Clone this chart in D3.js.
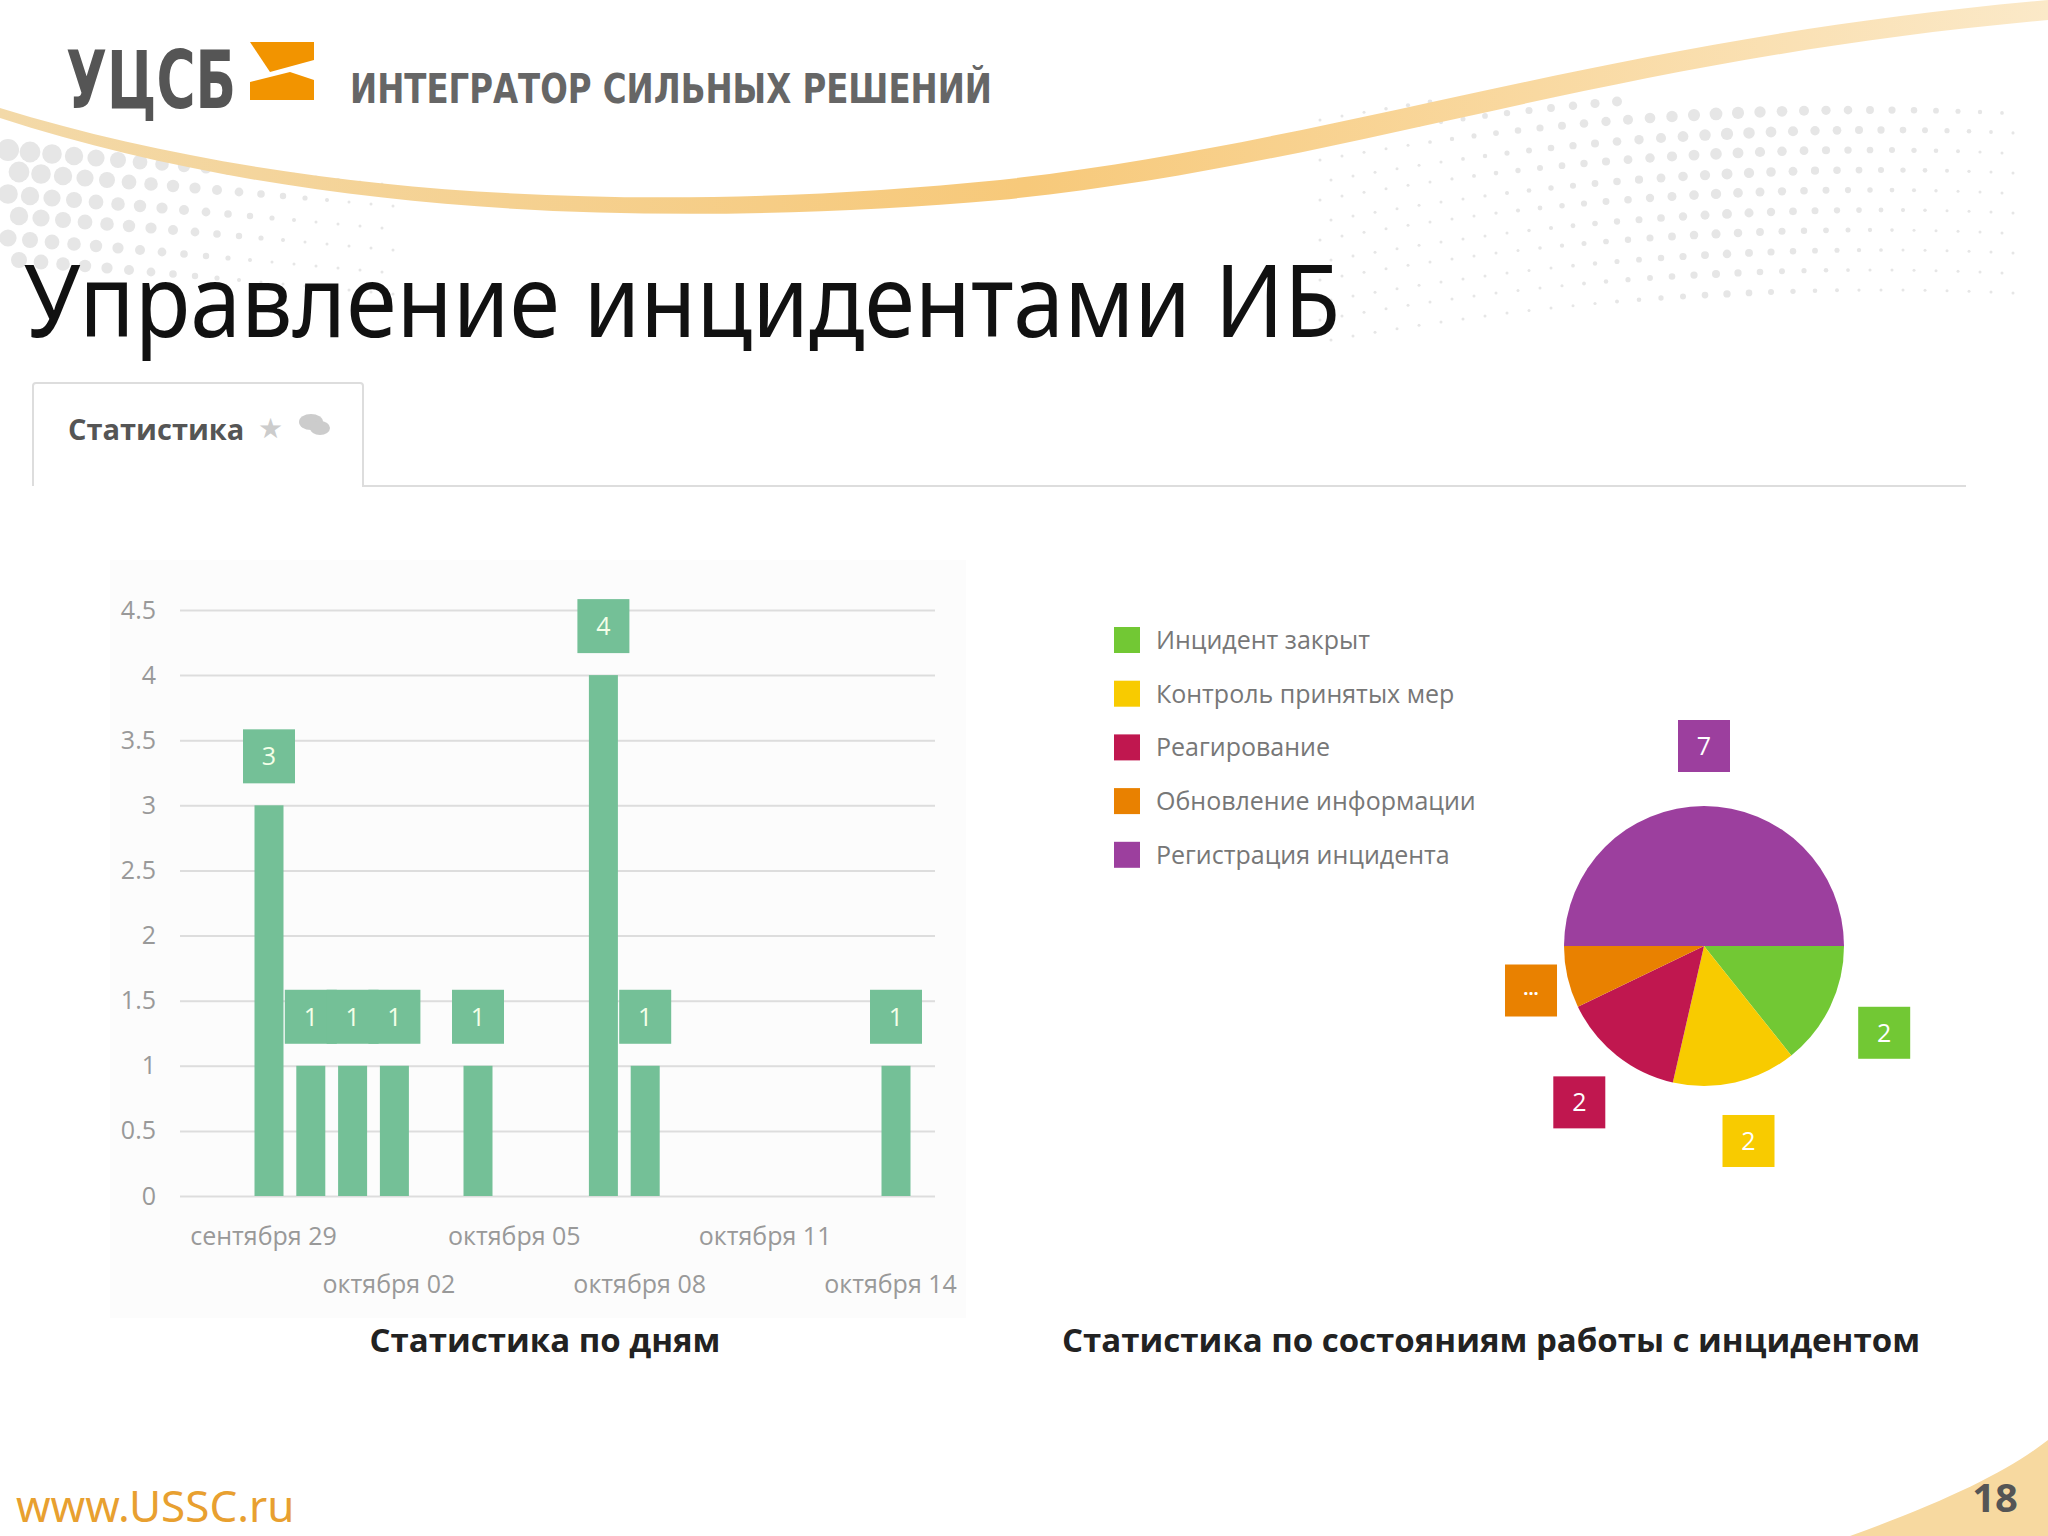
<!DOCTYPE html>
<html><head><meta charset="utf-8">
<script src="https://cdn.jsdelivr.net/npm/d3@7"></script>
<style>body{margin:0;background:#fff}svg{display:block}</style>
</head><body>
<script>
const barDates = ["2014-09-29","2014-09-30","2014-10-01","2014-10-02","2014-10-04","2014-10-07","2014-10-08","2014-10-14"];
const barValues = [3,1,1,1,1,4,1,1];
const yTicks = [0,0.5,1,1.5,2,2.5,3,3.5,4,4.5];
const xTickDates = ["2014-09-29","2014-10-02","2014-10-05","2014-10-08","2014-10-11","2014-10-14"];
const xTickLabels = ["сентября 29","октября 02","октября 05","октября 08","октября 11","октября 14"];
const pieCategories = ["Инцидент закрыт","Контроль принятых мер","Реагирование","Обновление информации","Регистрация инцидента"];
const pieValues = [2,2,2,1,7];
const pieLabels = ["2","2","2","...","7"];
const pieColors = ["#72c834","#f8cb00","#c0174f","#e98100","#9c3f9e"];

const W=2048,H=1536;
const svg=d3.select("body").append("svg").attr("width",W).attr("height",H).style("font-family","'Open Sans',sans-serif");

const defs=svg.append("defs");
const g1=defs.append("linearGradient").attr("id","sw").attr("x1","0").attr("x2","1");
g1.append("stop").attr("offset","0").attr("stop-color","#f3d9a8");
g1.append("stop").attr("offset","0.5").attr("stop-color","#f7c97a");
g1.append("stop").attr("offset","1").attr("stop-color","#fbe9c8");
const dots=svg.append("g").attr("fill","#e6e6e6");
for(let r=0;r<12;r++)for(let c=0;c<32;c++){
  const x=1320+c*22+ (r%2)*11, y=120+r*20+ (c*c)*0.08 - c*4;
  const s=Math.max(1.5,7-Math.abs(c-18)*0.35-r*0.3);
  if(y>100&&y<360) dots.append("circle").attr("cx",x).attr("cy",y).attr("r",s);
}
for(let r=0;r<6;r++)for(let c=0;c<18;c++){
  const x=8+c*22+(r%2)*11, y=150+r*22+c*2;
  const s=Math.max(1.5,11-c*0.6-r*0.6);
  dots.append("circle").attr("cx",x).attr("cy",y).attr("r",s);
}
svg.append("path").attr("d","M0,108 C300,200 650,215 1000,180 C1350,140 1600,40 2048,0 L2048,20 C1600,60 1350,165 1000,200 C650,230 300,215 0,118 Z").attr("fill","url(#sw)");
svg.append("path").attr("d","M1850,1536 C1950,1500 2010,1470 2048,1440 L2048,1536 Z").attr("fill","#f7d9a0");

svg.append("text").attr("x",66).attr("y",108).attr("font-family","'DejaVu Sans Condensed',sans-serif").attr("font-weight","bold").attr("font-size",80).attr("fill","#555").attr("textLength",170).attr("lengthAdjust","spacingAndGlyphs").text("УЦСБ");
svg.append("path").attr("d","M250,42 L314,42 L314,60 L270,72 Z").attr("fill","#f29400");
svg.append("path").attr("d","M250,82 L290,72 L314,80 L314,100 L250,100 Z").attr("fill","#f29400");
svg.append("text").attr("x",350).attr("y",103).attr("font-family","'DejaVu Sans Condensed',sans-serif").attr("font-weight","bold").attr("font-size",40).attr("fill","#666").attr("textLength",642).attr("lengthAdjust","spacingAndGlyphs").text("ИНТЕГРАТОР СИЛЬНЫХ РЕШЕНИЙ");
svg.append("text").attr("x",24).attr("y",337).attr("font-size",100).attr("fill","#111").attr("font-family","'Noto Sans',sans-serif").attr("textLength",1316).attr("lengthAdjust","spacingAndGlyphs").text("Управление инцидентами ИБ");

svg.append("path").attr("d","M33,486 L33,386 Q33,383 36,383 L360,383 Q363,383 363,386 L363,486 L1966,486").attr("fill","none").attr("stroke","#ddd").attr("stroke-width",2);
svg.append("text").attr("x",68).attr("y",440).attr("font-size",29).attr("font-weight","bold").attr("fill","#555").text("Статистика");
svg.append("text").attr("x",258).attr("y",438).attr("font-size",28).attr("fill","#ccc").text("★");
svg.append("ellipse").attr("cx",311).attr("cy",422).attr("rx",12).attr("ry",8).attr("fill","#ccc");
svg.append("ellipse").attr("cx",320).attr("cy",428).attr("rx",10).attr("ry",7).attr("fill","#ccc");

svg.append("rect").attr("x",110).attr("y",560).attr("width",856).attr("height",758).attr("fill","#fcfcfc");
const parse=d3.timeParse("%Y-%m-%d");
const x=d3.scaleTime().domain([parse("2014-09-29"),parse("2014-10-14")]).range([269,896]);
const y=d3.scaleLinear().domain([0,4.5]).range([1196,610]);
const bw=29;
const gy=svg.append("g").attr("transform","translate(180,0)").call(d3.axisLeft(y).tickValues(yTicks).tickSize(-755).tickFormat(d=>String(d)));
gy.select(".domain").remove();
gy.selectAll("line").attr("stroke","#ddd").attr("stroke-width",2);
gy.selectAll("text").attr("font-size",25).attr("fill","#999").attr("x",-24).style("font-family","'Open Sans',sans-serif");
const gx=svg.append("g").attr("transform","translate(0,1196)").call(d3.axisBottom(x).tickValues(xTickDates.map(parse)).tickSize(0).tickFormat((d,i)=>xTickLabels[i]));
gx.select(".domain").remove();
gx.selectAll("text").attr("font-size",25).attr("fill","#999").style("font-family","'Open Sans',sans-serif").attr("dy",0).attr("y",(d,i)=>i%2?97:49).attr("dx",-6);

const bars=svg.append("g");
barDates.forEach((d,i)=>{
  const cx=x(parse(d));
  bars.append("rect").attr("x",cx-bw/2).attr("y",y(barValues[i])).attr("width",bw).attr("height",y(0)-y(barValues[i])).attr("fill","#74c097");
  bars.append("rect").attr("x",cx-26).attr("y",y(barValues[i])-76).attr("width",52).attr("height",54).attr("fill","#74c097");
  bars.append("text").attr("x",cx).attr("y",y(barValues[i])-40).attr("text-anchor","middle").attr("font-size",25).attr("fill","#f4ffe8").text(barValues[i]);
});
svg.append("text").attr("x",545).attr("y",1352).attr("text-anchor","middle").attr("font-size",33).attr("font-weight","bold").attr("fill","#222").text("Статистика по дням");

const lg=svg.append("g");
pieCategories.forEach((c,i)=>{
  const yy=640+i*53.7;
  lg.append("rect").attr("x",1114).attr("y",yy-13).attr("width",26).attr("height",26).attr("fill",pieColors[i]);
  lg.append("text").attr("x",1156).attr("y",yy+9).attr("font-size",25).attr("fill","#777").text(c);
});

const pie=d3.pie().sort(null).value(d=>d).startAngle(Math.PI/2).endAngle(Math.PI/2+2*Math.PI);
const arcs=pie(pieValues);
const arc=d3.arc().innerRadius(0).outerRadius(140);
const lab=d3.arc().innerRadius(200).outerRadius(200);
const pg=svg.append("g").attr("transform","translate(1704,946)");
pg.selectAll("path").data(arcs).join("path").attr("d",arc).attr("fill",(d,i)=>pieColors[i]);
arcs.forEach((a,i)=>{
  let [lx,ly]=lab.centroid(a);
  if(pieLabels[i]==="...") lx+=22;
  pg.append("rect").attr("x",lx-26).attr("y",ly-26).attr("width",52).attr("height",52).attr("fill",pieColors[i]);
  pg.append("text").attr("x",lx).attr("y",ly+(pieLabels[i]==="..."?4:9)).attr("text-anchor","middle").attr("font-size",pieLabels[i]==="..."?18:25).attr("font-weight",pieLabels[i]==="..."?"bold":"normal").attr("fill","#fff").text(pieLabels[i]);
});
svg.append("text").attr("x",1491).attr("y",1352).attr("text-anchor","middle").attr("font-size",33).attr("font-weight","bold").attr("fill","#222").text("Статистика по состояниям работы с инцидентом");

svg.append("text").attr("x",16).attr("y",1522).attr("font-size",44).attr("fill","#e8a030").attr("font-family","'Noto Sans',sans-serif").text("www.USSC.ru");
svg.append("text").attr("x",2018).attr("y",1512).attr("text-anchor","end").attr("font-size",40).attr("font-weight","bold").attr("fill","#555").text("18");
</script>
</body></html>
